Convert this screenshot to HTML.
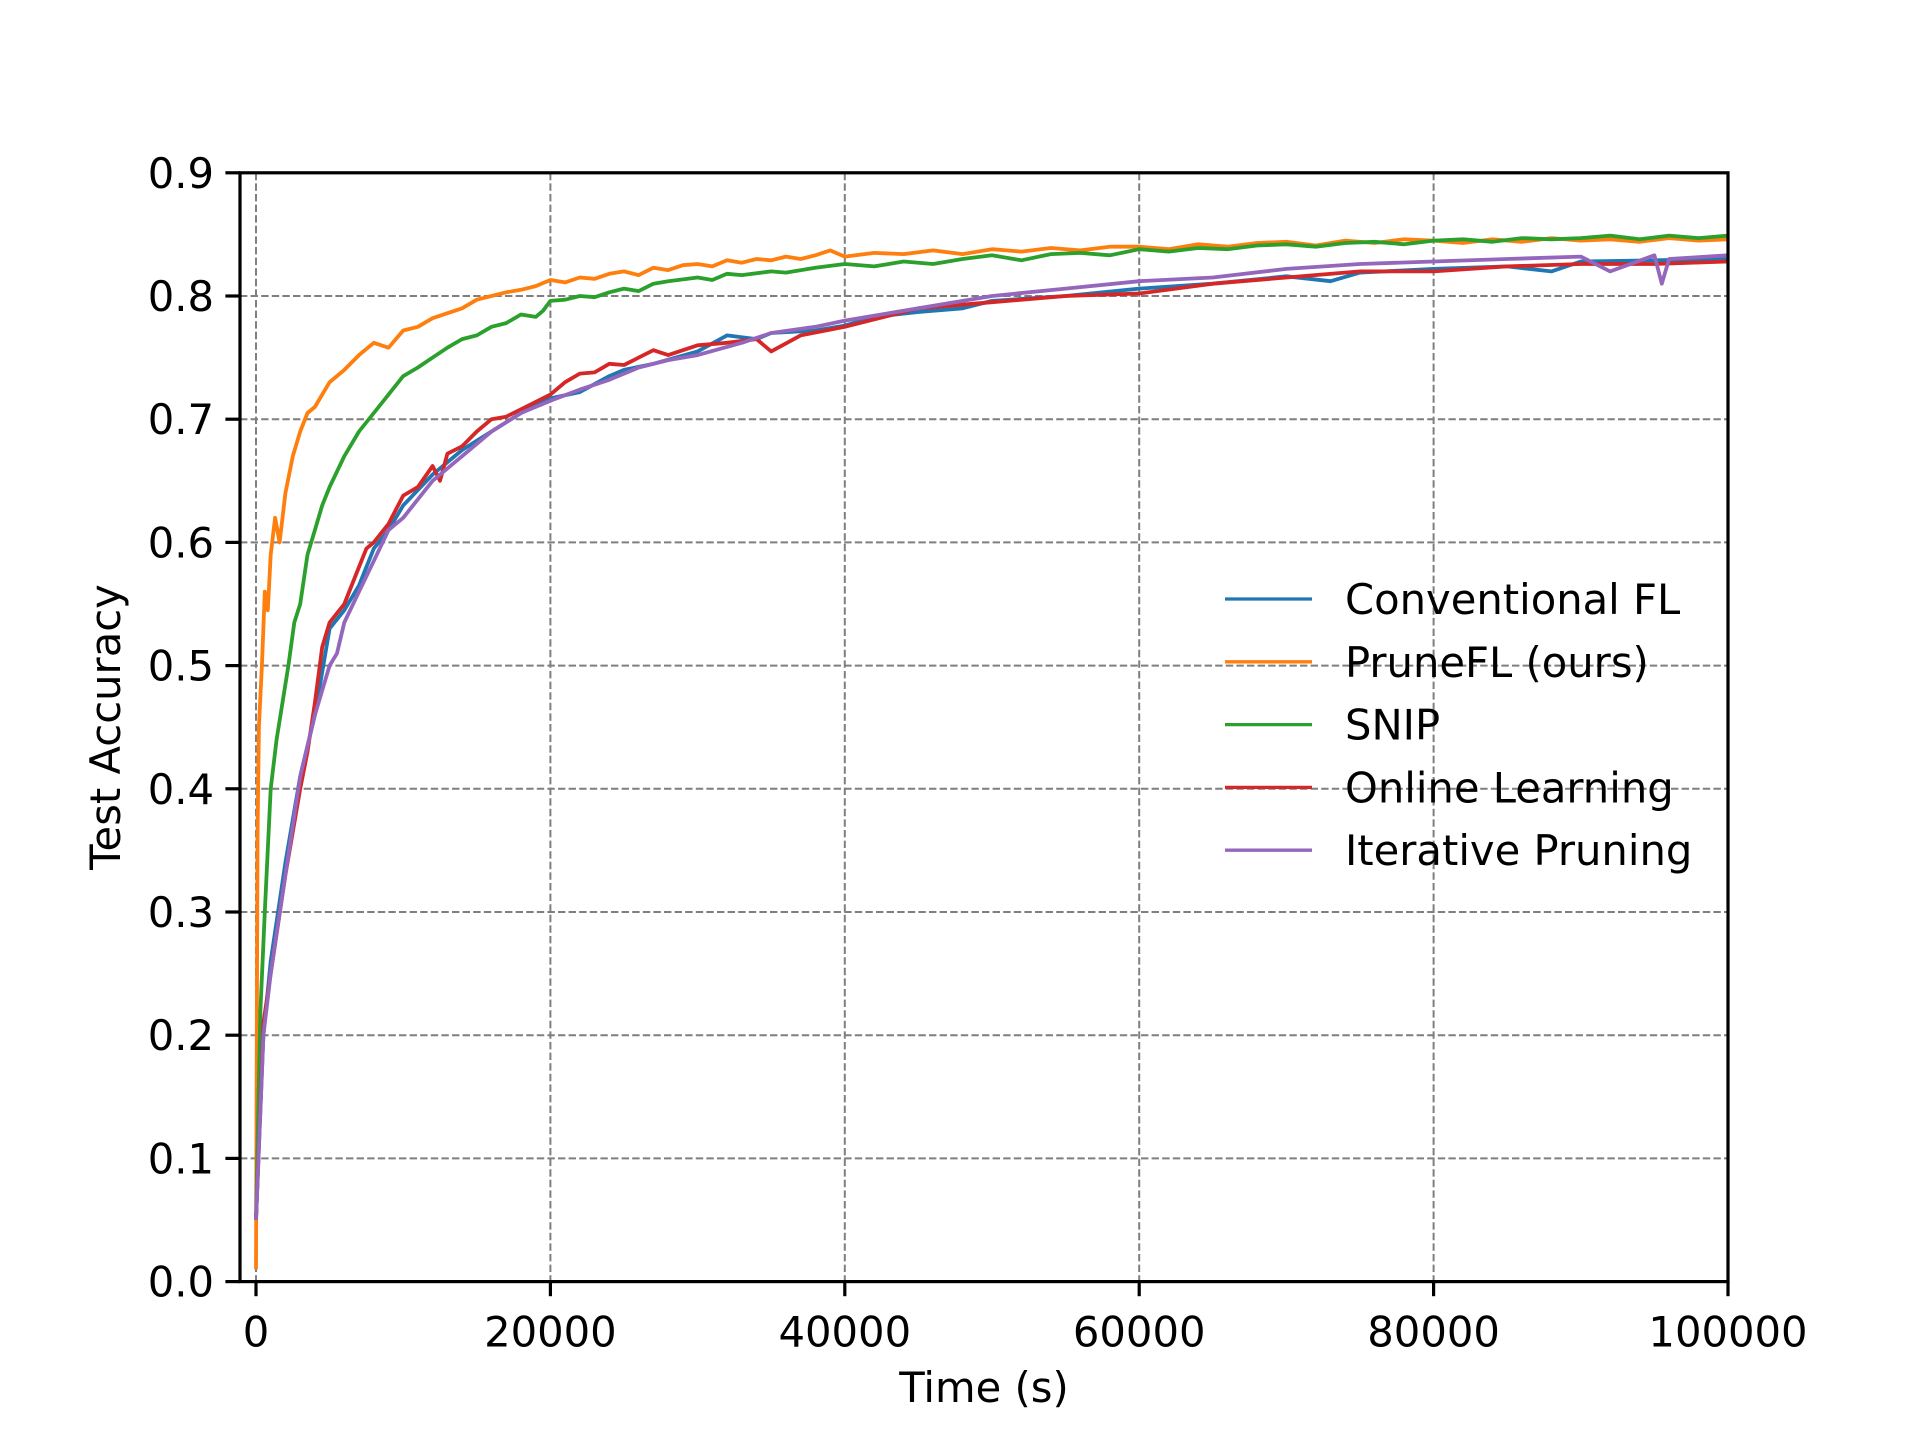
<!DOCTYPE html>
<html><head><meta charset="utf-8"><style>
html,body{margin:0;padding:0;background:#fff;}
svg text{font-family:"DejaVu Sans","Liberation Sans",sans-serif;fill:#000;}
</style></head><body>
<svg id="chart" width="1920" height="1440" viewBox="0 0 1920 1440" xmlns="http://www.w3.org/2000/svg">
<rect width="1920" height="1440" fill="#fff"/>
<g id="grid"></g>
<g id="series"></g>
<rect x="240" y="172.8" width="1488" height="1108.8" fill="none" stroke="#000" stroke-width="3.2"/>
<g id="ticks"></g>
<text x="984" y="1402" font-size="41.7" text-anchor="middle">Time (s)</text>
<text x="120" y="727" font-size="41.7" text-anchor="middle" transform="rotate(-90 120 727)">Test Accuracy</text>
<g id="legend"></g>
</svg>
<script>
const xTicks=[0,20000,40000,60000,80000,100000];
const xTickLabels=["0","20000","40000","60000","80000","100000"];
const yTicks=[0,0.1,0.2,0.3,0.4,0.5,0.6,0.7,0.8,0.9];
const yTickLabels=["0.0","0.1","0.2","0.3","0.4","0.5","0.6","0.7","0.8","0.9"];
const seriesNames=["Conventional FL","PruneFL (ours)","SNIP","Online Learning","Iterative Pruning"];
const seriesColors=["#1f77b4","#ff7f0e","#2ca02c","#d62728","#9467bd"];
const convT=[0,500,1000,2000,3000,4000,5000,6000,7000,8000,9000,10000,12000,14000,16000,18000,20000,22000,24000,25000,27000,30000,32000,34000,35000,38000,40000,42000,45000,48000,50000,55000,60000,65000,70000,73000,75000,80000,85000,88000,90000,95000,100000];
const convV=[0.05,0.2,0.26,0.34,0.41,0.46,0.53,0.545,0.565,0.595,0.61,0.63,0.655,0.675,0.69,0.705,0.717,0.722,0.735,0.74,0.745,0.755,0.768,0.765,0.77,0.772,0.776,0.783,0.787,0.79,0.796,0.8,0.806,0.81,0.816,0.812,0.819,0.822,0.824,0.82,0.828,0.829,0.83];
const pruneT=[0,100,200,400,600,800,1000,1300,1600,2000,2500,3000,3500,4000,5000,6000,7000,8000,9000,10000,11000,12000,13000,14000,15000,16000,17000,18000,19000,20000,21000,22000,23000,24000,25000,26000,27000,28000,29000,30000,31000,32000,33000,34000,35000,36000,37000,38000,39000,40000,42000,44000,46000,48000,50000,52000,54000,56000,58000,60000,62000,64000,66000,68000,70000,72000,74000,76000,78000,80000,82000,84000,86000,88000,90000,92000,94000,96000,98000,100000];
const pruneV=[0.01,0.36,0.45,0.5,0.56,0.545,0.59,0.62,0.6,0.64,0.67,0.69,0.705,0.71,0.73,0.74,0.752,0.762,0.758,0.772,0.775,0.782,0.786,0.79,0.797,0.8,0.803,0.805,0.808,0.813,0.811,0.815,0.814,0.818,0.82,0.817,0.823,0.821,0.825,0.826,0.824,0.829,0.827,0.83,0.829,0.832,0.83,0.833,0.837,0.832,0.835,0.834,0.837,0.834,0.838,0.836,0.839,0.837,0.84,0.84,0.838,0.842,0.84,0.843,0.844,0.841,0.845,0.843,0.846,0.845,0.843,0.846,0.844,0.847,0.845,0.846,0.844,0.847,0.845,0.846];
const snipT=[0,300,600,1000,1400,1800,2200,2600,3000,3500,4000,4500,5000,6000,7000,8000,9000,10000,11000,12000,13000,14000,15000,16000,17000,18000,19000,19500,20000,21000,22000,23000,24000,25000,26000,27000,28000,30000,31000,32000,33000,35000,36000,38000,40000,42000,44000,46000,48000,50000,52000,54000,56000,58000,60000,62000,64000,66000,68000,70000,72000,74000,76000,78000,80000,82000,84000,86000,88000,90000,92000,94000,96000,98000,100000];
const snipV=[0.05,0.22,0.3,0.4,0.44,0.47,0.5,0.535,0.55,0.59,0.61,0.63,0.645,0.67,0.69,0.705,0.72,0.735,0.742,0.75,0.758,0.765,0.768,0.775,0.778,0.785,0.783,0.788,0.796,0.797,0.8,0.799,0.803,0.806,0.804,0.81,0.812,0.815,0.813,0.818,0.817,0.82,0.819,0.823,0.826,0.824,0.828,0.826,0.83,0.833,0.829,0.834,0.835,0.833,0.838,0.836,0.839,0.838,0.841,0.842,0.84,0.843,0.844,0.842,0.845,0.846,0.844,0.847,0.846,0.847,0.849,0.846,0.849,0.847,0.849];
const onlineT=[0,500,1000,2000,3000,3500,4000,4500,5000,6000,7000,7500,8000,9000,10000,11000,12000,12500,13000,14000,15000,16000,17000,18000,20000,21000,22000,23000,24000,25000,26000,27000,28000,30000,32000,34000,35000,37000,40000,45000,50000,55000,60000,65000,70000,75000,80000,85000,90000,95000,100000];
const onlineV=[0.05,0.21,0.25,0.33,0.4,0.43,0.47,0.515,0.535,0.55,0.58,0.595,0.6,0.615,0.638,0.645,0.662,0.65,0.672,0.678,0.69,0.7,0.702,0.708,0.72,0.73,0.737,0.738,0.745,0.744,0.75,0.756,0.752,0.76,0.762,0.765,0.755,0.768,0.775,0.79,0.795,0.8,0.802,0.81,0.815,0.82,0.82,0.824,0.826,0.826,0.828];
const iterT=[0,500,1000,2000,3000,4000,5000,5500,6000,7000,8000,9000,10000,12000,14000,16000,18000,20000,22000,24000,26000,28000,30000,33000,35000,38000,40000,45000,50000,55000,60000,65000,70000,75000,80000,85000,90000,92000,95000,95500,96000,100000];
const iterV=[0.05,0.2,0.25,0.33,0.41,0.46,0.5,0.51,0.535,0.56,0.585,0.61,0.62,0.65,0.67,0.69,0.705,0.715,0.724,0.732,0.742,0.748,0.752,0.762,0.77,0.775,0.78,0.79,0.8,0.806,0.812,0.815,0.822,0.826,0.828,0.83,0.832,0.82,0.833,0.81,0.83,0.833];
const allT=[convT,pruneT,snipT,onlineT,iterT];
const allV=[convV,pruneV,snipV,onlineV,iterV];
const NS='http://www.w3.org/2000/svg';
const X0=240,X1=1728,Y0=1281.6,Y1=172.8,xMin=-1087,xMax=100000,yMin=0,yMax=0.9;
function sx(v){return X0+(v-xMin)/(xMax-xMin)*(X1-X0);}
function sy(v){return Y0-(v-yMin)/(yMax-yMin)*(Y0-Y1);}
function mk(tag,attrs,parent){const e=document.createElementNS(NS,tag);for(const k in attrs)e.setAttribute(k,attrs[k]);parent.appendChild(e);return e;}
const grid=document.getElementById('grid'),ticks=document.getElementById('ticks'),ser=document.getElementById('series'),leg=document.getElementById('legend');
xTicks.forEach((t,i)=>{const x=sx(t);
 const g=mk('line',{x1:x,x2:x,y1:Y1,y2:Y0,stroke:'#7f7f7f','stroke-width':2,'stroke-dasharray':'7.4,3.2'},grid);
 
 
 const tk=mk('line',{x1:x,x2:x,y1:Y0,y2:Y0+14.6,stroke:'#000','stroke-width':3.2},ticks);
 
 
 const tl=mk('text',{x:x,y:Y0+65,'font-size':41.7,'text-anchor':'middle'},ticks);tl.textContent=xTickLabels[i];
 
 
});
yTicks.forEach((t,i)=>{const y=sy(t);
 const g=mk('line',{x1:X0,x2:X1,y1:y,y2:y,stroke:'#7f7f7f','stroke-width':2,'stroke-dasharray':'7.4,3.2'},grid);
 
 
 const tk=mk('line',{x1:X0-14.6,x2:X0,y1:y,y2:y,stroke:'#000','stroke-width':3.2},ticks);
 
 
 const tl=mk('text',{x:X0-26,y:y+15,'font-size':41.7,'text-anchor':'end'},ticks);tl.textContent=yTickLabels[i];
 
 
});
[0,1,2,3,4].forEach(s=>{const pts=allT[s].map((t,j)=>sx(t).toFixed(1)+','+sy(allV[s][j]).toFixed(1)).join(' ');
 const p=mk('polyline',{points:pts,fill:'none',stroke:seriesColors[s],'stroke-width':3.8,'stroke-linejoin':'round'},ser);
 
 
});
seriesNames.forEach((n,i)=>{const y=599+i*62.8;
 const l=mk('line',{x1:1225,x2:1312,y1:y,y2:y,stroke:seriesColors[i],'stroke-width':3.3},leg);
 
 
 const t=mk('text',{x:1345,y:y+15,'font-size':41.7},leg);t.textContent=n;
 
 
});
</script>
</body></html>
